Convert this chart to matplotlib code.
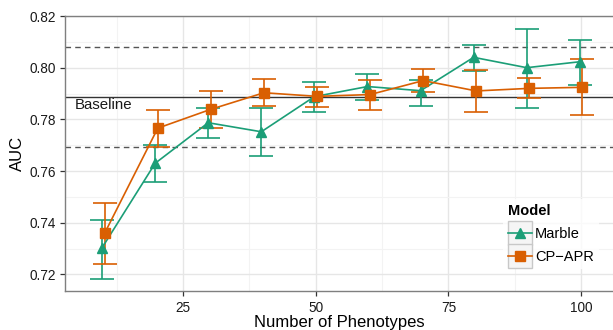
import matplotlib
matplotlib.use("Agg")
import matplotlib.pyplot as plt
from matplotlib.lines import Line2D
from matplotlib.patches import Rectangle
from matplotlib.legend_handler import HandlerLine2D
import numpy as np

plt.rcParams['font.family'] = ['Liberation Sans', 'DejaVu Sans']

phenotypes = [10, 20, 30, 40, 50, 60, 70, 80, 90, 100]
marble_auc = [0.7303, 0.7630, 0.7787, 0.7752, 0.7888, 0.7927, 0.7911, 0.8040, 0.8000, 0.8023]
marble_lo = [0.7184, 0.7558, 0.7729, 0.7660, 0.7827, 0.7875, 0.7853, 0.7987, 0.7844, 0.7934]
marble_hi = [0.7411, 0.7700, 0.7845, 0.7843, 0.7943, 0.7974, 0.7954, 0.8088, 0.8150, 0.8107]
cpapr_auc = [0.7360, 0.7766, 0.7839, 0.7903, 0.7889, 0.7896, 0.7950, 0.7910, 0.7920, 0.7924]
cpapr_lo = [0.7242, 0.7694, 0.7768, 0.7852, 0.7849, 0.7836, 0.7907, 0.7827, 0.7882, 0.7816]
cpapr_hi = [0.7478, 0.7836, 0.7911, 0.7955, 0.7927, 0.7954, 0.7994, 0.7990, 0.7960, 0.8035]
baseline = 0.7886
baseline_band = [0.7693, 0.8079]
models = ["Marble", "CP\u2212APR"]
colors = ["#1b9e77", "#d95f02"]
markers = ["^", "s"]

fig = plt.figure(figsize=(6.13, 3.30), dpi=100)
ax = fig.add_axes([65/613, 1-290.7/330, 1-65/613, (290.7-16)/330])

ax.set_xlim(2.77, 106)
ax.set_ylim(0.7137, 0.82)
ax.set_xticks([25, 50, 75, 100])
ax.set_xticks([12.5, 37.5, 62.5, 87.5], minor=True)
ax.set_yticks([0.72, 0.74, 0.76, 0.78, 0.80, 0.82])
ax.set_yticks([0.73, 0.75, 0.77, 0.79, 0.81], minor=True)
ax.set_yticklabels(["0.72", "0.74", "0.76", "0.78", "0.80", "0.82"])
ax.grid(which='major', color='#e6e6e6', lw=1.0, zorder=0)
ax.grid(which='minor', color='#f3f3f3', lw=0.8, zorder=0)
ax.set_axisbelow(True)

ax.axhline(baseline, color='#333333', lw=1.0, zorder=1)
for b in baseline_band:
    ax.axhline(b, color='#555555', lw=1.0, ls=(0, (4, 3)), zorder=1)
ax.text(4.65, 0.7856, "Baseline", fontsize=10.8, va='center', ha='left', color='#1a1a1a')

x = np.array(phenotypes, dtype=float)
series = [(marble_auc, marble_lo, marble_hi, -0.25), (cpapr_auc, cpapr_lo, cpapr_hi, 0.25)]
for (y, lo, hi, dx), c, m, name in zip(series, colors, markers, models):
    y = np.array(y); lo = np.array(lo); hi = np.array(hi)
    ax.errorbar(x + dx, y, yerr=[y - lo, hi - y], fmt='none', ecolor=c,
                elinewidth=1.2, capsize=8.6, capthick=1.2, zorder=3)
    ax.plot(x + dx, y, color=c, lw=1.2, marker=m,
            markersize=7.5 if m == '^' else 6.8, zorder=4, label=name)

for s in ['left', 'top', 'bottom']:
    ax.spines[s].set_color('#7f7f7f')
    ax.spines[s].set_linewidth(1.0)
ax.spines['right'].set_visible(False)
ax.tick_params(which='major', direction='out', length=3.6, width=0.9, color='#333333',
               labelsize=9.8, labelcolor='#1a1a1a')
ax.tick_params(axis='x', which='major', pad=3.5)
ax.tick_params(axis='y', which='major', pad=3.0)
ax.tick_params(which='minor', length=0)

ax.set_xlabel("Number of Phenotypes", fontsize=12, labelpad=0)
ax.set_ylabel("AUC", fontsize=12, labelpad=3)

KEY = 17.3  # key box side in points


class BoxedHandler(HandlerLine2D):
    def create_artists(self, legend, orig_handle, xdescent, ydescent, width, height, fontsize, trans):
        arts = super().create_artists(legend, orig_handle, xdescent, ydescent, width, height, fontsize, trans)
        yc = (height - ydescent) / 2.0
        rect = Rectangle((-xdescent, yc - KEY / 2), width, KEY, facecolor='#f5f5f5',
                         edgecolor='#c8c8c8', lw=1.0, transform=trans)
        return [rect] + list(arts)


handles = [Line2D([], [], color=c, marker=m, lw=1.2, markersize=7.5 if m == '^' else 6.8)
           for c, m in zip(colors, markers)]
fs = 10.5
leg = ax.legend(handles, models, title="Model", loc='upper left',
                bbox_to_anchor=((503-65)/548, 1-(199-16)/274.7),
                frameon=True, fontsize=fs, handlelength=KEY/fs,
                labelspacing=0.62, handletextpad=0.2, borderpad=0.35,
                handler_map={Line2D: BoxedHandler(numpoints=1)},
                borderaxespad=0)
leg.get_frame().set_facecolor('white')
leg.get_frame().set_edgecolor('none')
leg.get_frame().set_boxstyle('square', pad=0)
leg.get_title().set_fontweight('bold')
leg.get_title().set_fontsize(fs)
leg._legend_box.align = "left"

fig.savefig("out.png", dpi=100)
